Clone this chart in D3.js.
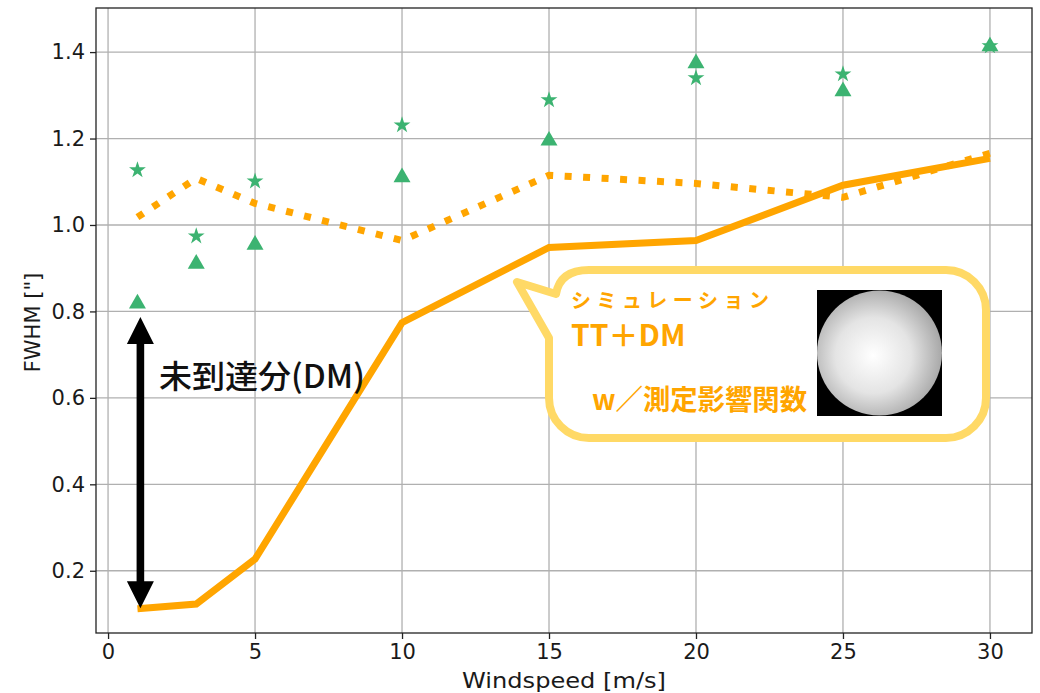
<!DOCTYPE html>
<html><head><meta charset="utf-8">
<script src="https://cdn.jsdelivr.net/npm/d3@7"></script>
<style>
body{margin:0;background:#fff;}
svg{display:block;}
</style></head>
<body>
<svg id="chart" width="1040" height="693"></svg>
<script>
const windspeed = [1, 3, 5, 10, 15, 20, 25, 30];
const simSolid = [0.112, 0.123, 0.227, 0.774, 0.948, 0.964, 1.092, 1.154];
const simDotted = [1.018, 1.108, 1.050, 0.964, 1.115, 1.096, 1.064, 1.166];
const obsStar = [1.127, 0.974, 1.101, 1.231, 1.289, 1.340, 1.349, 1.414];
const obsTriangle = [0.818, 0.910, 0.954, 1.110, 1.195, 1.374, 1.309, 1.413];
const xTicks = [0, 5, 10, 15, 20, 25, 30];
const yTicks = [0.2, 0.4, 0.6, 0.8, 1.0, 1.2, 1.4];
const arrowRange = [0.787, 0.113];

const W = 1040, H = 693;
const m = {left: 96, right: 1032, top: 8, bottom: 633};
const svg = d3.select("#chart");
const x = d3.scaleLinear().domain([-0.41, 31.43]).range([m.left, m.right]);
const y = d3.scaleLinear().domain([0.056, 1.502]).range([m.bottom, m.top]);

const font = "'DejaVu Sans', sans-serif";
const cjk = "'Noto Sans CJK JP', 'Noto Sans', sans-serif";

// grid
const grid = svg.append("g");
grid.selectAll("line.gx").data(xTicks).join("line")
  .attr("x1", d => x(d)).attr("x2", d => x(d)).attr("y1", m.top).attr("y2", m.bottom)
  .attr("stroke", "#b0b0b0").attr("stroke-width", 1.3);
grid.selectAll("line.gy").data(yTicks).join("line")
  .attr("y1", d => y(d)).attr("y2", d => y(d)).attr("x1", m.left).attr("x2", m.right)
  .attr("stroke", "#b0b0b0").attr("stroke-width", 1.3);

// axes
const xAxis = svg.append("g").attr("transform", `translate(0,${m.bottom})`)
  .call(d3.axisBottom(x).tickValues(xTicks).tickFormat(d3.format("d")).tickSizeOuter(0).tickSize(6).tickPadding(5));
const yAxis = svg.append("g").attr("transform", `translate(${m.left},0)`)
  .call(d3.axisLeft(y).tickValues(yTicks).tickFormat(d3.format(".1f")).tickSizeOuter(0).tickSize(6).tickPadding(5));
[xAxis, yAxis].forEach(a => {
  a.select(".domain").remove();
  a.selectAll("line").attr("stroke", "#222").attr("stroke-width", 1.3);
  a.selectAll("text").attr("font-family", font).attr("font-size", 21).attr("fill", "#1a1a1a");
});

// frame
svg.append("rect").attr("x", m.left).attr("y", m.top)
  .attr("width", m.right - m.left).attr("height", m.bottom - m.top)
  .attr("fill", "none").attr("stroke", "#222").attr("stroke-width", 1.3);

// axis labels
svg.append("text").attr("x", (m.left + m.right) / 2).attr("y", 688)
  .attr("text-anchor", "middle").attr("font-family", font).attr("font-size", 22).attr("fill", "#1a1a1a")
  .attr("textLength", 204).attr("lengthAdjust", "spacingAndGlyphs")
  .text("Windspeed [m/s]");
svg.append("text").attr("transform", `translate(40,${(m.top + m.bottom) / 2 + 2}) rotate(-90)`)
  .attr("text-anchor", "middle").attr("font-family", font).attr("font-size", 21).attr("fill", "#1a1a1a")
  .text('FWHM ["]');

// lines
const line = d3.line().x(d => x(d[0])).y(d => y(d[1]));
svg.append("path").datum(windspeed.map((w, i) => [w, simDotted[i]]))
  .attr("d", line).attr("fill", "none").attr("stroke", "#ffa500")
  .attr("stroke-width", 7).attr("stroke-dasharray", "7 11.5");
svg.append("path").datum(windspeed.map((w, i) => [w, simSolid[i]]))
  .attr("d", line).attr("fill", "none").attr("stroke", "#ffa500")
  .attr("stroke-width", 7).attr("stroke-linejoin", "miter");

// markers
const green = "#3cb371";
svg.append("g").selectAll("path").data(windspeed.map((w, i) => [w, obsTriangle[i]])).join("path")
  .attr("transform", d => `translate(${x(d[0])},${y(d[1])})`)
  .attr("d", d3.symbol(d3.symbolTriangle, 125)).attr("fill", green);
svg.append("g").selectAll("path").data(windspeed.map((w, i) => [w, obsStar[i]])).join("path")
  .attr("transform", d => `translate(${x(d[0])},${y(d[1])})`)
  .attr("d", d3.symbol(d3.symbolStar, 88)).attr("fill", green);

// double arrow
const ax = x(1.1);
const yTop = y(arrowRange[0]), yBot = y(arrowRange[1]);
const hw = 13.5, hl = 27, sw = 3.8;
svg.append("path").attr("fill", "#000")
  .attr("d", `M${ax},${yTop} L${ax + hw},${yTop + hl} L${ax + sw},${yTop + hl} L${ax + sw},${yBot - hl} L${ax + hw},${yBot - hl} L${ax},${yBot} L${ax - hw},${yBot - hl} L${ax - sw},${yBot - hl} L${ax - sw},${yTop + hl} L${ax - hw},${yTop + hl} Z`);
svg.append("text").attr("x", 159).attr("y", 388)
  .attr("font-family", cjk).attr("font-size", 32).attr("font-weight", 500).attr("fill", "#111")
  .attr("textLength", 206).attr("lengthAdjust", "spacingAndGlyphs")
  .text("未到達分(DM)");

// callout
const L = 549, T = 270, R = 986, B = 438, r = 40;
const calloutPath = `M${L + r},${T} H${R - r} A${r},${r} 0 0 1 ${R},${T + r} V${B - r} A${r},${r} 0 0 1 ${R - r},${B} H${L + r} A${r},${r} 0 0 1 ${L},${B - r} V338 L517,282 L556,294 Q560,${T} ${L + r},${T} Z`;
svg.append("path").attr("d", calloutPath).attr("fill", "#fff")
  .attr("stroke", "#ffd966").attr("stroke-width", 8).attr("stroke-linejoin", "round");

const orange = "#ffa500";
svg.append("text").attr("x", 571).attr("y", 308).attr("font-family", cjk)
  .attr("font-size", 20).attr("font-weight", 700).attr("fill", orange)
  .attr("textLength", 198).attr("lengthAdjust", "spacing")
  .text("シミュレーション");
svg.append("text").attr("x", 571).attr("y", 346).attr("font-family", cjk)
  .attr("font-size", 30).attr("font-weight", 700).attr("fill", orange)
  .text("TT＋DM");
svg.append("text").attr("x", 592).attr("y", 410).attr("font-family", cjk)
  .attr("font-size", 28).attr("font-weight", 700).attr("fill", orange)
  .attr("textLength", 215).attr("lengthAdjust", "spacingAndGlyphs")
  .text("w／測定影響関数");

// pupil image
const defs = svg.append("defs");
const rg = defs.append("radialGradient").attr("id", "pupil").attr("cx", "0.45").attr("cy", "0.52").attr("r", "0.55");
rg.append("stop").attr("offset", "0").attr("stop-color", "#ffffff");
rg.append("stop").attr("offset", "0.55").attr("stop-color", "#e4e4e4");
rg.append("stop").attr("offset", "1").attr("stop-color", "#a8a8a8");
svg.append("rect").attr("x", 817).attr("y", 290).attr("width", 125).attr("height", 126).attr("fill", "#000");
svg.append("circle").attr("cx", 879.5).attr("cy", 353).attr("r", 62.5).attr("fill", "url(#pupil)");
</script>
</body></html>
